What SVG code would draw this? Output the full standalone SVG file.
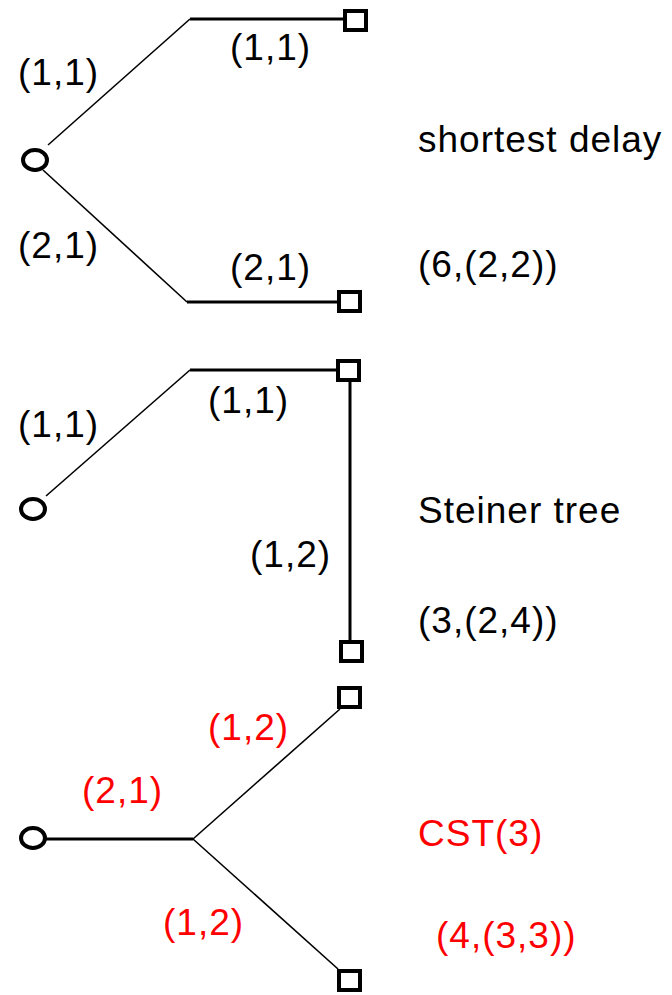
<svg xmlns="http://www.w3.org/2000/svg" width="672" height="995" viewBox="0 0 672 995">
<style>
text{font-family:"Liberation Sans",Arial,sans-serif;font-size:37px;letter-spacing:1px;fill:#000}
.r{fill:#ff0000}
.src{fill:#fff;stroke:#000;stroke-width:4}
.dst{fill:#fff;stroke:#000;stroke-width:4}
.h{stroke:#000;stroke-width:3;fill:none}
.d{stroke:#000;stroke-width:1.6;fill:none}
</style>
<rect width="672" height="995" fill="#fff"/>
<g id="connectors">
<polyline class="d" points="48,145 190,19"/>
<line class="h" x1="190" y1="19" x2="345" y2="19"/>
<polyline class="d" points="43,170 187,302"/>
<line class="h" x1="187" y1="302" x2="339" y2="302"/>
<polyline class="d" points="46,496 190,370"/>
<line class="h" x1="190" y1="370" x2="337" y2="370"/>
<line class="h" x1="350" y1="382" x2="350" y2="641"/>
<line class="h" x1="46" y1="839" x2="193" y2="839"/>
<polyline class="d" points="193,839 340,709"/>
<polyline class="d" points="193,839 338,969"/>
</g>
<g id="n1"><ellipse class="src" cx="35" cy="160" rx="12" ry="10"/></g>
<g id="n2"><rect class="dst" x="345" y="11" width="21" height="19"/></g>
<g id="n3"><rect class="dst" x="339" y="292" width="21" height="19"/></g>
<g id="n4"><ellipse class="src" cx="33" cy="509" rx="12" ry="10"/></g>
<g id="n5"><rect class="dst" x="338" y="361" width="21" height="19"/></g>
<g id="n6"><rect class="dst" x="341" y="642" width="21" height="19"/></g>
<g id="n7"><ellipse class="src" cx="33" cy="838" rx="12" ry="10"/></g>
<g id="n8"><rect class="dst" x="339" y="688" width="21" height="19"/></g>
<g id="n9"><rect class="dst" x="339" y="971" width="21" height="19"/></g>
<g id="labels">
<text x="18" y="85">(1,1)</text>
<text x="230" y="60">(1,1)</text>
<text x="418" y="152">shortest delay</text>
<text x="18" y="258">(2,1)</text>
<text x="230" y="280">(2,1)</text>
<text x="418" y="277">(6,(2,2))</text>
<text x="18" y="437">(1,1)</text>
<text x="208" y="413">(1,1)</text>
<text x="250" y="567">(1,2)</text>
<text x="418" y="523">Steiner tree</text>
<text x="418" y="633">(3,(2,4))</text>
<text class="r" x="208" y="740">(1,2)</text>
<text class="r" x="82" y="803">(2,1)</text>
<text class="r" x="163" y="935">(1,2)</text>
<text class="r" x="418" y="846">CST(3)</text>
<text class="r" x="436" y="948">(4,(3,3))</text>
</g>
</svg>
